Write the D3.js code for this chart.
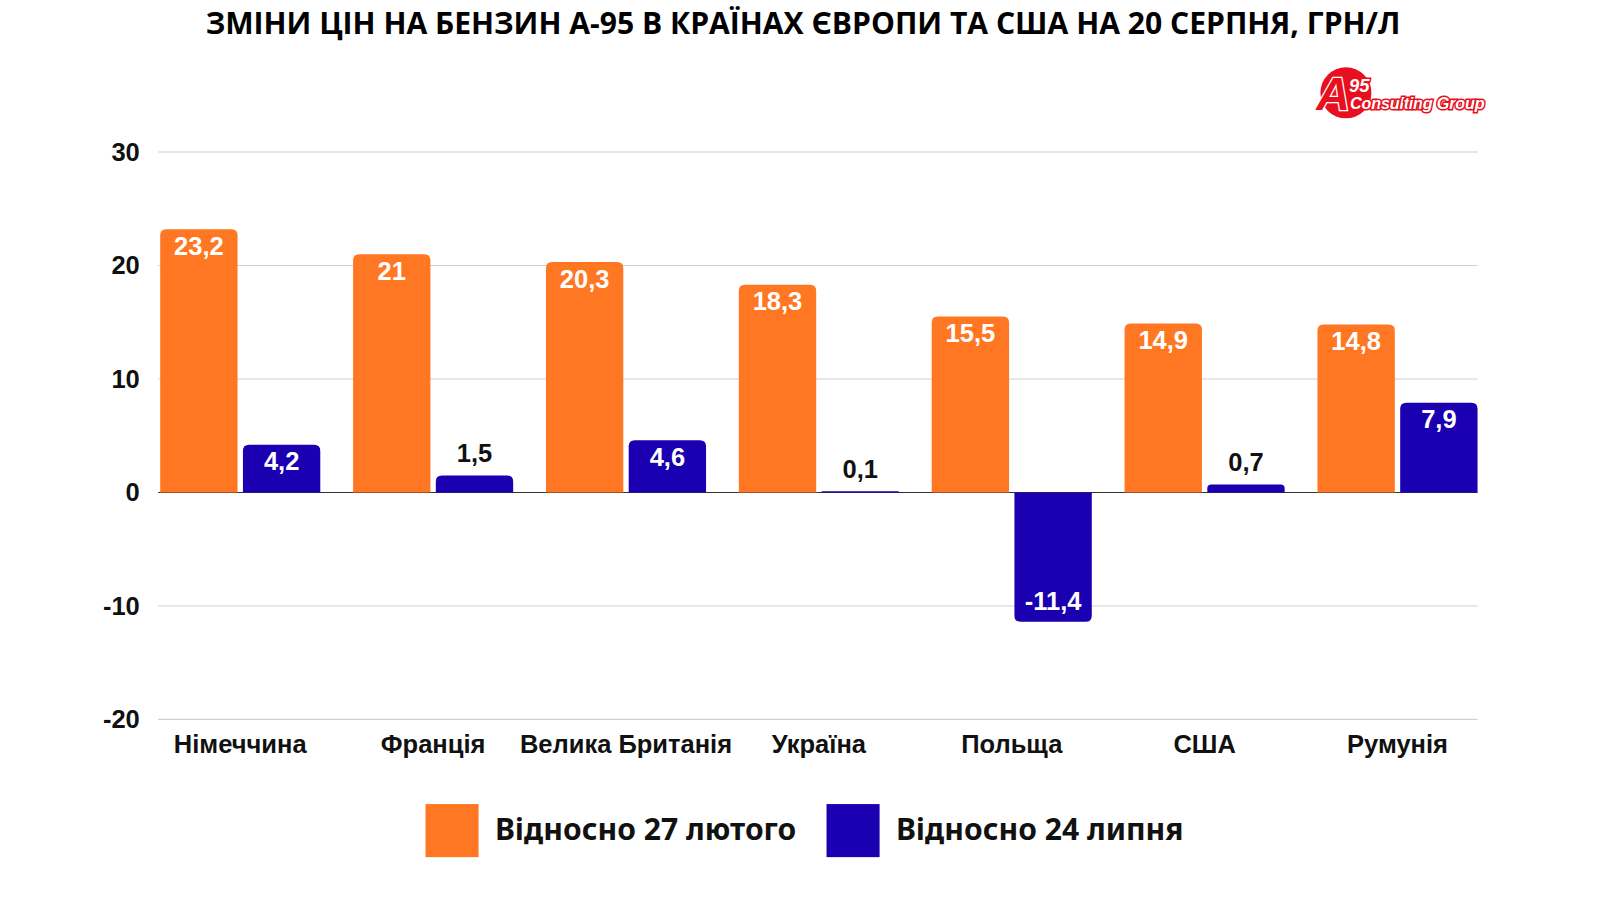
<!DOCTYPE html>
<html><head><meta charset="utf-8">
<script src="https://cdn.jsdelivr.net/npm/d3@7"></script>
<style>body{margin:0;background:#fff}</style>
</head><body><div id="chart"></div>
<script>
const countries = ['Німеччина', 'Франція', 'Велика Британія', 'Україна', 'Польща', 'США', 'Румунія'];
const vsFeb = [23.2, 21, 20.3, 18.3, 15.5, 14.9, 14.8];
const vsJul = [4.2, 1.5, 4.6, 0.1, -11.4, 0.7, 7.9];
const seriesNames = ['Відносно 27 лютого', 'Відносно 24 липня'];
const colors = ['#ff7722', '#1a00b0'];
const yTicks = [-20, -10, 0, 10, 20, 30];

const svg0 = d3.select('#chart').append('svg').attr('width', 1600).attr('height', 900);
const svg = svg0.append('g').attr('transform', 'scale(1.0204)');

svg.append('text').attr('x', 787).attr('y', 33).attr('text-anchor', 'middle')
  .style('font-family', 'Open Sans').style('font-weight', 'bold').style('font-size', '29.5px')
  .text('ЗМІНИ ЦІН НА БЕНЗИН А-95 В КРАЇНАХ ЄВРОПИ ТА США НА 20 СЕРПНЯ, ГРН/Л');

// logo
const logo = svg.append('g');
logo.append('circle').attr('cx', 1319).attr('cy', 91).attr('r', 25).attr('fill', '#e8101e');
logo.append('text').attr('x', 1290).attr('y', 108).style('font-family', 'Liberation Sans')
  .style('font-style', 'italic').style('font-weight', 'bold').style('font-size', '46px')
  .attr('fill', '#e8101e').attr('stroke', '#fff').attr('stroke-width', 2.5).attr('paint-order', 'stroke').text('A');
logo.append('text').attr('x', 1322).attr('y', 90).style('font-family', 'Liberation Sans')
  .style('font-style', 'italic').style('font-weight', 'bold').style('font-size', '18px')
  .attr('fill', '#fff').attr('stroke', '#e8101e').attr('stroke-width', 3).attr('paint-order', 'stroke').text('95');
logo.append('text').attr('x', 1323).attr('y', 107).style('font-family', 'Liberation Sans Narrow, Liberation Sans')
  .style('font-style', 'italic').style('font-weight', 'bold').style('font-size', '16px').attr('textLength', 132)
  .attr('fill', '#fff').attr('stroke', '#e8101e').attr('stroke-width', 3).attr('paint-order', 'stroke').text('Consulting Group');

const y = d3.scaleLinear().domain([-20, 30]).range([705, 149]);
const x0 = d3.scaleBand().domain(countries).range([157, 1448]).paddingInner(0.17);
const x1 = d3.scaleBand().domain([0, 1]).range([0, x0.bandwidth()]).paddingInner(0.065);

svg.append('g').selectAll('line').data(yTicks).join('line')
  .attr('x1', 155).attr('x2', 1448).attr('y1', d => y(d)).attr('y2', d => y(d))
  .attr('stroke', d => d === 0 ? '#333' : '#d0d0d0').attr('stroke-width', 1);

const yAxis = svg.append('g').attr('transform', 'translate(137,0)')
  .call(d3.axisLeft(y).tickValues(yTicks).tickFormat(d => String(d)).tickSize(0).tickPadding(0));
yAxis.select('.domain').remove();
yAxis.selectAll('text').style('font-family', 'Liberation Sans').style('font-weight', 'bold')
  .style('font-size', '25px').attr('fill', '#111');

const xAxis = svg.append('g').attr('transform', 'translate(0,705)')
  .call(d3.axisBottom(x0).tickSize(0).tickPadding(15));
xAxis.select('.domain').remove();
xAxis.selectAll('text').style('font-family', 'Liberation Sans').style('font-weight', 'bold')
  .style('font-size', '25px').attr('fill', '#111');

const bars = [];
countries.forEach((c, i) => {
  bars.push({ c, s: 0, v: vsFeb[i] });
  bars.push({ c, s: 1, v: vsJul[i] });
});

const r = 6;
function barPath(d) {
  const xl = x0(d.c) + x1(d.s), w = x1.bandwidth();
  const y0 = y(0), yv = y(d.v);
  const h = Math.abs(yv - y0);
  const rr = Math.min(r, h / 2);
  if (d.v >= 0) {
    return `M${xl},${y0}V${yv + rr}Q${xl},${yv} ${xl + rr},${yv}H${xl + w - rr}Q${xl + w},${yv} ${xl + w},${yv + rr}V${y0}Z`;
  }
  return `M${xl},${y0}V${yv - rr}Q${xl},${yv} ${xl + rr},${yv}H${xl + w - rr}Q${xl + w},${yv} ${xl + w},${yv - rr}V${y0}Z`;
}

svg.append('g').selectAll('path').data(bars).join('path')
  .attr('d', barPath).attr('fill', d => colors[d.s]);

const fmt = v => String(v).replace('.', ',');
svg.append('g').selectAll('text').data(bars).join('text')
  .attr('x', d => x0(d.c) + x1(d.s) + x1.bandwidth() / 2)
  .attr('y', d => {
    if (d.v < 0) return y(d.v) - 12;
    if (d.v < 3) return y(d.v) - 13;
    return y(d.v) + 25;
  })
  .attr('text-anchor', 'middle')
  .style('font-family', 'Liberation Sans').style('font-weight', 'bold').style('font-size', '25px')
  .attr('fill', d => (d.v >= 0 && d.v < 3) ? '#111' : '#fff')
  .text(d => fmt(d.v));

const legend = svg.append('g');
const lx = [417, 810];
seriesNames.forEach((n, i) => {
  legend.append('rect').attr('x', lx[i]).attr('y', 788).attr('width', 52).attr('height', 52).attr('fill', colors[i]);
  legend.append('text').attr('x', lx[i] + 68).attr('y', 823)
    .style('font-family', 'Noto Sans').style('font-weight', 'bold').style('font-size', '29.5px')
    .attr('fill', '#111').text(n);
});
</script></body></html>
